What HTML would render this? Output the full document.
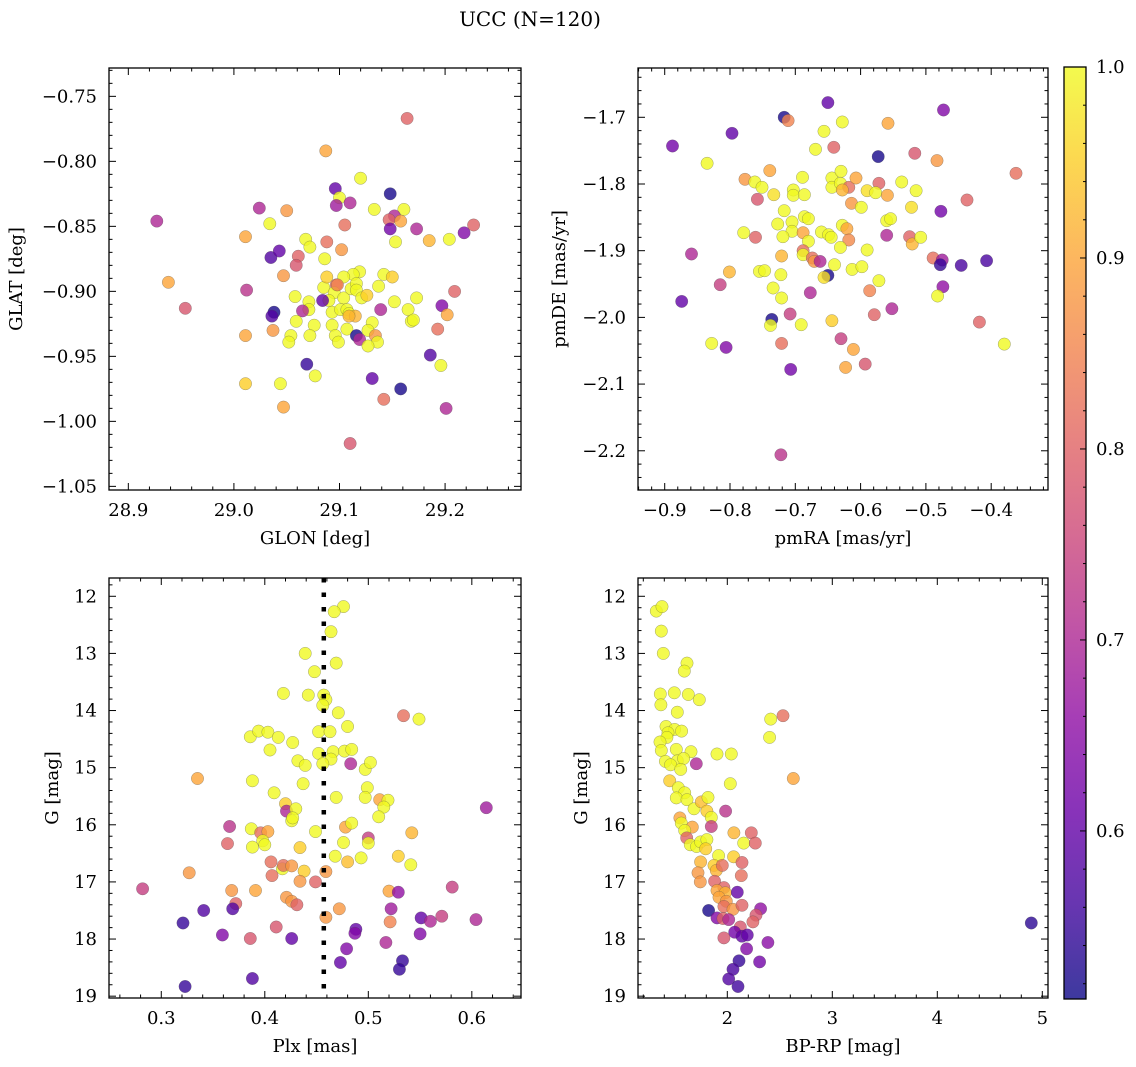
<!DOCTYPE html>
<html><head><meta charset="utf-8">
<style>
html,body{margin:0;padding:0;background:#fff;}
svg{display:block;font-family:"DejaVu Serif","Liberation Serif",serif;}
</style></head>
<body>
<svg id="fig" width="1136" height="1067" viewBox="0 0 1136 1067" xmlns="http://www.w3.org/2000/svg">
<defs>
<linearGradient id="plasma" x1="0" y1="1" x2="0" y2="0">
<stop offset="0" stop-color="#0d0887"/><stop offset="0.1" stop-color="#41049d"/><stop offset="0.2" stop-color="#6a00a8"/><stop offset="0.3" stop-color="#8f0da4"/><stop offset="0.4" stop-color="#b12a90"/><stop offset="0.5" stop-color="#cc4778"/><stop offset="0.6" stop-color="#e16462"/><stop offset="0.7" stop-color="#f2844b"/><stop offset="0.8" stop-color="#fca636"/><stop offset="0.9" stop-color="#fcce25"/><stop offset="1" stop-color="#f0f921"/>
</linearGradient>
</defs>
<text x="530" y="26" text-anchor="middle" font-size="20">UCC (N=120)</text>
</svg>
<script>
// Panel 1: GLON vs GLAT
const p1Glon=[28.927,28.938,28.954,29.012,29.011,29.024,29.050,29.034,29.035,29.043,29.061,29.059,29.047,29.068,29.072,29.088,29.086,29.102,29.087,29.096,29.100,29.097,29.110,29.120,29.148,29.133,29.161,29.152,29.147,29.158,29.148,29.105,29.153,29.173,29.185,29.204,29.218,29.227,29.164,29.209,29.197,29.202,29.193,29.186,29.196,29.201,29.173,29.152,29.165,29.168,29.170,29.139,29.137,29.142,29.150,29.119,29.113,29.104,29.097,29.085,29.095,29.104,29.111,29.116,29.116,29.121,29.126,29.090,29.084,29.093,29.101,29.107,29.109,29.115,29.058,29.071,29.071,29.065,29.038,29.036,29.059,29.076,29.093,29.037,29.011,29.054,29.052,29.072,29.096,29.099,29.107,29.131,29.127,29.116,29.119,29.134,29.136,29.127,29.069,29.077,29.011,29.044,29.047,29.131,29.158,29.142,29.110,29.088,29.098,29.109];
const p1Glat=[-0.846,-0.893,-0.913,-0.899,-0.858,-0.836,-0.838,-0.848,-0.874,-0.869,-0.873,-0.880,-0.888,-0.860,-0.866,-0.862,-0.875,-0.868,-0.792,-0.821,-0.828,-0.834,-0.832,-0.813,-0.825,-0.837,-0.837,-0.842,-0.845,-0.846,-0.852,-0.849,-0.862,-0.852,-0.861,-0.860,-0.855,-0.849,-0.767,-0.900,-0.911,-0.918,-0.929,-0.949,-0.957,-0.990,-0.905,-0.908,-0.914,-0.923,-0.922,-0.914,-0.896,-0.887,-0.889,-0.885,-0.887,-0.889,-0.895,-0.897,-0.901,-0.905,-0.898,-0.894,-0.899,-0.905,-0.903,-0.907,-0.907,-0.916,-0.914,-0.914,-0.917,-0.919,-0.904,-0.908,-0.914,-0.915,-0.916,-0.919,-0.923,-0.926,-0.926,-0.930,-0.934,-0.934,-0.939,-0.934,-0.934,-0.939,-0.929,-0.924,-0.930,-0.934,-0.937,-0.934,-0.939,-0.942,-0.956,-0.965,-0.971,-0.971,-0.989,-0.967,-0.975,-0.983,-1.017,-0.889,-0.895,-0.919];
const p1Prob=[0.70,0.90,0.78,0.72,0.90,0.70,0.88,1,0.58,0.60,0.80,0.78,0.88,1,1,0.82,1,0.88,0.90,0.60,1,0.68,0.70,1,0.52,1,1,0.70,0.80,0.90,0.62,0.82,1,0.70,0.92,1,0.64,0.80,0.80,0.80,0.64,0.90,0.82,0.58,1,0.70,1,1,1,1,1,0.70,1,1,0.95,1,1,1,0.82,1,1,1,1,1,1,1,0.95,1,0.60,1,1,1,1,0.92,1,1,1,0.70,0.52,0.58,1,1,1,0.88,0.90,1,1,1,1,1,1,1,1,0.52,0.70,0.88,1,1,0.55,1,0.95,1,0.90,0.60,0.52,0.82,0.78,0.95,0.85,0.92];

// Panel 2: pmRA vs pmDE
const p2PmRA=[-0.888,-0.797,-0.835,-0.717,-0.711,-0.650,-0.656,-0.628,-0.669,-0.641,-0.558,-0.473,-0.573,-0.517,-0.483,-0.362,-0.777,-0.762,-0.751,-0.739,-0.733,-0.758,-0.703,-0.703,-0.689,-0.686,-0.644,-0.630,-0.644,-0.631,-0.618,-0.628,-0.607,-0.572,-0.590,-0.577,-0.559,-0.537,-0.515,-0.614,-0.599,-0.522,-0.477,-0.437,-0.717,-0.727,-0.705,-0.705,-0.719,-0.686,-0.680,-0.779,-0.761,-0.859,-0.688,-0.680,-0.660,-0.649,-0.645,-0.628,-0.621,-0.618,-0.631,-0.560,-0.554,-0.560,-0.525,-0.521,-0.508,-0.590,-0.721,-0.688,-0.688,-0.674,-0.671,-0.662,-0.640,-0.650,-0.656,-0.613,-0.598,-0.489,-0.475,-0.478,-0.446,-0.407,-0.474,-0.482,-0.801,-0.755,-0.747,-0.722,-0.815,-0.734,-0.721,-0.874,-0.677,-0.572,-0.586,-0.736,-0.738,-0.708,-0.691,-0.644,-0.579,-0.552,-0.418,-0.380,-0.828,-0.806,-0.721,-0.630,-0.611,-0.623,-0.593,-0.707,-0.722];
const p2PmDE=[-1.743,-1.724,-1.769,-1.700,-1.705,-1.678,-1.721,-1.707,-1.748,-1.745,-1.709,-1.689,-1.759,-1.754,-1.765,-1.784,-1.793,-1.797,-1.805,-1.780,-1.816,-1.823,-1.809,-1.817,-1.790,-1.816,-1.791,-1.781,-1.805,-1.799,-1.805,-1.809,-1.791,-1.799,-1.810,-1.813,-1.817,-1.797,-1.810,-1.829,-1.835,-1.835,-1.841,-1.824,-1.840,-1.860,-1.857,-1.871,-1.879,-1.849,-1.852,-1.873,-1.880,-1.905,-1.873,-1.886,-1.872,-1.876,-1.880,-1.862,-1.867,-1.884,-1.895,-1.855,-1.852,-1.877,-1.879,-1.890,-1.880,-1.899,-1.908,-1.900,-1.906,-1.911,-1.916,-1.916,-1.921,-1.937,-1.940,-1.928,-1.924,-1.911,-1.914,-1.921,-1.922,-1.915,-1.954,-1.968,-1.932,-1.931,-1.930,-1.936,-1.951,-1.956,-1.971,-1.976,-1.963,-1.945,-1.960,-2.003,-2.012,-1.995,-2.011,-2.005,-1.996,-1.987,-2.007,-2.040,-2.039,-2.045,-2.039,-2.032,-2.048,-2.075,-2.070,-2.078,-2.206];
const p2Prob=[0.62,0.60,1,0.52,0.85,0.60,1,1,1,0.80,0.90,0.64,0.52,0.78,0.88,0.82,0.88,1,1,0.90,0.97,0.78,1,1,1,1,1,1,1,1,0.82,0.92,0.90,0.80,0.97,1,0.90,1,1,0.88,1,0.97,0.62,0.80,1,1,1,1,1,1,1,1,0.80,0.70,0.90,1,1,1,1,1,0.90,0.86,1,1,1,0.70,0.80,0.92,1,1,0.92,0.82,1,0.82,0.88,0.70,1,0.52,0.97,1,1,0.82,0.68,0.55,0.57,0.57,0.66,1,0.92,1,1,1,0.74,1,1,0.60,0.70,1,0.85,0.52,1,0.74,1,0.95,0.80,0.70,0.80,1,1,0.64,0.82,0.74,0.90,0.90,0.78,0.62,0.72];

// Panel 3: Plx vs G
const p3Plx=[0.476,0.467,0.464,0.439,0.469,0.448,0.418,0.442,0.457,0.459,0.456,0.471,0.534,0.549,0.480,0.386,0.394,0.403,0.413,0.427,0.405,0.452,0.463,0.452,0.466,0.464,0.456,0.477,0.484,0.483,0.432,0.439,0.497,0.502,0.335,0.388,0.437,0.409,0.469,0.499,0.497,0.511,0.519,0.515,0.510,0.420,0.421,0.430,0.426,0.427,0.366,0.387,0.396,0.403,0.398,0.400,0.388,0.364,0.449,0.478,0.484,0.500,0.500,0.476,0.434,0.542,0.468,0.480,0.493,0.529,0.541,0.406,0.417,0.418,0.426,0.438,0.407,0.434,0.449,0.459,0.327,0.282,0.368,0.391,0.372,0.369,0.341,0.421,0.426,0.431,0.321,0.359,0.386,0.411,0.426,0.459,0.472,0.520,0.529,0.522,0.521,0.517,0.551,0.560,0.571,0.581,0.604,0.614,0.550,0.488,0.487,0.479,0.473,0.533,0.530,0.388,0.323];
const p3G=[12.18,12.27,12.62,13.00,13.17,13.32,13.70,13.73,13.73,13.81,13.91,14.04,14.09,14.15,14.28,14.46,14.36,14.38,14.47,14.56,14.69,14.37,14.37,14.75,14.72,14.85,14.93,14.71,14.68,14.93,14.88,14.96,15.03,14.91,15.19,15.23,15.28,15.44,15.52,15.35,15.52,15.56,15.57,15.69,15.86,15.63,15.76,15.72,15.93,15.88,16.03,16.07,16.14,16.12,16.28,16.35,16.39,16.33,16.12,16.04,15.97,16.23,16.32,16.31,16.40,16.14,16.55,16.65,16.58,16.55,16.70,16.65,16.77,16.71,16.72,16.81,16.89,16.99,17.00,16.82,16.84,17.12,17.15,17.15,17.38,17.47,17.50,17.27,17.34,17.40,17.72,17.93,17.99,17.79,17.99,17.62,17.47,17.16,17.18,17.47,17.70,18.06,17.63,17.69,17.60,17.09,17.66,15.70,17.91,17.83,17.90,18.17,18.41,18.38,18.53,18.69,18.83];
const p3Prob=[1,1,1,1,1,1,1,1,1,1,1,1,0.82,1,1,1,1,1,1,1,1,1,1,1,1,1,1,1,1,0.70,1,1,1,1,0.90,1,1,1,1,1,1,0.90,1,1,1,0.95,0.70,1,1,1,0.72,1,0.82,0.90,1,1,1,0.80,1,0.90,1,0.74,1,1,0.95,0.92,1,0.93,1,0.95,1,0.82,1,0.82,0.88,0.95,0.82,0.88,0.80,0.88,0.88,0.74,0.88,0.90,0.80,0.58,0.58,0.88,0.88,0.80,0.55,0.64,0.78,0.78,0.60,0.88,0.88,0.90,0.66,0.68,0.85,0.70,0.60,0.70,0.74,0.74,0.70,0.68,0.64,0.60,0.64,0.64,0.60,0.55,0.55,0.58,0.55];
const plxRef=[0.457];

// Panel 4: BP-RP vs G
const p4BpRp=[1.324,1.378,1.371,1.390,1.616,1.590,1.362,1.495,1.629,1.733,1.368,1.524,2.413,2.530,2.403,1.416,1.498,1.565,1.435,1.425,1.359,1.371,1.514,1.654,1.902,2.038,1.410,1.524,1.584,1.460,1.556,1.705,2.629,1.451,1.533,1.594,1.514,1.616,1.683,1.752,1.816,1.806,1.848,2.029,1.984,1.549,1.562,1.667,1.594,1.848,1.613,1.648,1.708,1.746,1.806,1.794,2.063,2.156,2.229,2.267,1.917,2.060,1.746,1.873,1.895,1.952,2.140,1.721,1.743,2.133,1.879,1.968,1.902,1.981,2.095,1.921,1.990,1.968,2.054,2.140,1.822,1.902,1.959,2.013,2.317,2.273,2.244,2.124,2.070,2.140,2.190,1.968,2.387,2.184,2.308,2.111,2.054,2.013,2.102,4.895];
const p4G=[12.26,12.18,12.61,13.00,13.17,13.31,13.71,13.69,13.72,13.81,13.90,14.03,14.15,14.09,14.47,14.28,14.33,14.36,14.39,14.47,14.55,14.70,14.68,14.72,14.76,14.76,14.89,14.88,14.84,14.95,15.03,14.93,15.19,15.23,15.35,15.44,15.53,15.56,15.72,15.60,15.52,15.76,15.87,15.28,15.76,15.88,15.97,16.04,16.10,16.03,16.23,16.35,16.38,16.30,16.26,16.42,16.14,16.32,16.14,16.32,16.54,16.56,16.65,16.71,16.80,16.71,16.66,16.84,17.00,16.89,16.99,17.10,17.15,17.19,17.18,17.27,17.34,17.43,17.48,17.41,17.50,17.63,17.64,17.66,17.47,17.58,17.70,17.79,17.88,17.95,17.93,17.98,18.06,18.17,18.40,18.38,18.53,18.70,18.83,17.72];
const p4Prob=[1,1,1,1,1,1,1,1,1,1,1,1,1,0.82,1,1,1,1,1,1,1,1,1,1,1,1,1,1,1,1,1,0.70,0.90,0.95,1,1,1,1,1,0.93,1,0.95,1,1,0.72,0.90,1,0.90,1,0.74,0.80,1,1,1,1,0.95,0.92,1,0.80,0.80,1,0.95,0.92,0.95,0.92,0.82,0.80,0.88,0.88,0.82,0.80,0.80,0.90,0.92,0.60,0.90,0.88,0.82,0.88,0.80,0.52,0.64,0.80,0.70,0.66,0.78,0.80,0.78,0.62,0.60,0.60,0.78,0.65,0.64,0.62,0.55,0.57,0.58,0.56,0.54];

// Colorbar
const cbTicks=[0.6,0.7,0.8,0.9,1.0];
const cbMin=0.512, cbMax=1.0;

const NS="http://www.w3.org/2000/svg";
const svg=document.getElementById('fig');
function mk(tag,attrs,parent){const e=document.createElementNS(NS,tag);for(const k in attrs)e.setAttribute(k,attrs[k]);(parent||svg).appendChild(e);return e;}

const plasmaStops=[[0,[13,8,135]],[0.1,[65,4,157]],[0.2,[106,0,168]],[0.3,[143,13,164]],[0.4,[177,42,144]],[0.5,[204,71,120]],[0.6,[225,100,98]],[0.7,[242,132,75]],[0.8,[252,166,54]],[0.9,[252,206,37]],[1,[240,249,33]]];
function plasma(v){let t=(v-cbMin)/(cbMax-cbMin);t=Math.max(0,Math.min(1,t));
 for(let i=0;i<plasmaStops.length-1;i++){const a=plasmaStops[i],b=plasmaStops[i+1];
  if(t<=b[0]){const f=(t-a[0])/(b[0]-a[0]);const c=a[1].map((x,j)=>Math.round(x+(b[1][j]-x)*f));return `rgb(${c[0]},${c[1]},${c[2]})`;}}
 return 'rgb(240,249,33)';}

function fmt(v,d){let s=v.toFixed(d);if(s.startsWith('-'))s='\u2212'+s.slice(1);return s;}

function panel(cfg){
 const g=mk('g',{});
 
 
 const X=v=>cfg.x0+(v-cfg.xmin)/(cfg.xmax-cfg.xmin)*(cfg.x1-cfg.x0);
 const Y=v=>cfg.ytop+(v-cfg.yAtTop)/(cfg.yAtBot-cfg.yAtTop)*(cfg.y1-cfg.ytop);
 const pg=mk('g',{},g);
 
 
 for(let i=0;i<cfg.xs.length;i++){
  const c=mk('circle',{cx:X(cfg.xs[i]).toFixed(1),cy:Y(cfg.ys[i]).toFixed(1),r:6.2,fill:plasma(cfg.ps[i]),'fill-opacity':0.8,stroke:'#4a4a4a','stroke-width':0.5,'stroke-opacity':0.5},pg);
  
  
 }
 if(cfg.vline){for(const v of cfg.vline){const l=mk('line',{x1:X(v),x2:X(v),y1:cfg.ytop,y2:cfg.y1,stroke:'#000','stroke-width':4.5,'stroke-dasharray':'4.5 10'},g);
  
  }}
 const fr=mk('rect',{x:cfg.x0,y:cfg.ytop,width:cfg.x1-cfg.x0,height:cfg.y1-cfg.ytop,fill:'none',stroke:'#000','stroke-width':1.3},g);
 
 
 const xa=mk('g',{},g);
 
 
 const eps=1e-9;
 for(let v=Math.ceil(cfg.xmin/cfg.xminor-eps)*cfg.xminor;v<=cfg.xmax+eps;v+=cfg.xminor){
  const px=X(v);const major=Math.abs(v/cfg.xmajor-Math.round(v/cfg.xmajor))<1e-6;const L=major?7:3.5;
  mk('line',{x1:px,x2:px,y1:cfg.y1,y2:cfg.y1-L,stroke:'#000','stroke-width':1},xa);
  mk('line',{x1:px,x2:px,y1:cfg.ytop,y2:cfg.ytop+L,stroke:'#000','stroke-width':1},xa);
 }
 for(const v of cfg.xticks){const t=mk('text',{x:X(v),y:cfg.y1+26,'text-anchor':'middle','font-size':18},xa);t.textContent=fmt(v,cfg.xdec);
  
  }
 const xl=mk('text',{x:(cfg.x0+cfg.x1)/2,y:cfg.y1+54,'text-anchor':'middle','font-size':18},xa);xl.textContent=cfg.xlabel;
 
 
 const ya=mk('g',{},g);
 
 
 const lo=Math.min(cfg.yAtTop,cfg.yAtBot),hi=Math.max(cfg.yAtTop,cfg.yAtBot);
 for(let k=Math.ceil(lo/cfg.yminor-eps);k*cfg.yminor<=hi+eps;k++){
  const v=k*cfg.yminor;const py=Y(v);const major=Math.abs(v/cfg.ymajor-Math.round(v/cfg.ymajor))<1e-6;const L=major?7:3.5;
  mk('line',{x1:cfg.x0,x2:cfg.x0+L,y1:py,y2:py,stroke:'#000','stroke-width':1},ya);
  mk('line',{x1:cfg.x1,x2:cfg.x1-L,y1:py,y2:py,stroke:'#000','stroke-width':1},ya);
 }
 for(const v of cfg.yticks){const t=mk('text',{x:cfg.x0-12,y:Y(v)+6,'text-anchor':'end','font-size':18},ya);t.textContent=fmt(v,cfg.ydec);
  
  }
 const lx=cfg.x0-cfg.ylOff,ly=(cfg.ytop+cfg.y1)/2;
 const yl=mk('text',{x:lx,y:ly,'text-anchor':'middle','font-size':18,transform:`rotate(-90 ${lx} ${ly})`,'dominant-baseline':'middle'},ya);yl.textContent=cfg.ylabel;
 
 
}

panel({name:'glon-glat-panel',x0:109,x1:521,ytop:68,y1:490,xmin:28.8817,xmax:29.2719,yAtTop:-0.7282,yAtBot:-1.0528,
 xs:p1Glon,ys:p1Glat,ps:p1Prob,xmajor:0.1,xminor:0.02,ymajor:0.05,yminor:0.01,
 xticks:[28.9,29.0,29.1,29.2],xdec:1,yticks:[-0.75,-0.80,-0.85,-0.90,-0.95,-1.00,-1.05],ydec:2,xlabel:'GLON [deg]',ylabel:'GLAT [deg]',ylOff:92});
panel({name:'proper-motion-panel',x0:638,x1:1048,ytop:68,y1:490,xmin:-0.9409,xmax:-0.3130,yAtTop:-1.6261,yAtBot:-2.2588,
 xs:p2PmRA,ys:p2PmDE,ps:p2Prob,xmajor:0.1,xminor:0.02,ymajor:0.1,yminor:0.02,
 xticks:[-0.9,-0.8,-0.7,-0.6,-0.5,-0.4],xdec:1,yticks:[-1.7,-1.8,-1.9,-2.0,-2.1,-2.2],ydec:1,xlabel:'pmRA [mas/yr]',ylabel:'pmDE [mas/yr]',ylOff:78});
panel({name:'plx-g-panel',x0:109,x1:521,ytop:578,y1:998,xmin:0.2495,xmax:0.6475,yAtTop:11.680,yAtBot:19.032,
 xs:p3Plx,ys:p3G,ps:p3Prob,xmajor:0.1,xminor:0.02,ymajor:1,yminor:0.2,vline:plxRef,
 xticks:[0.3,0.4,0.5,0.6],xdec:1,yticks:[12,13,14,15,16,17,18,19],ydec:0,xlabel:'Plx [mas]',ylabel:'G [mag]',ylOff:56});
panel({name:'cmd-panel',x0:638,x1:1048,ytop:578,y1:998,xmin:1.1495,xmax:5.0543,yAtTop:11.680,yAtBot:19.032,
 xs:p4BpRp,ys:p4G,ps:p4Prob,xmajor:1,xminor:0.2,ymajor:1,yminor:0.2,
 xticks:[2,3,4,5],xdec:0,yticks:[12,13,14,15,16,17,18,19],ydec:0,xlabel:'BP-RP [mag]',ylabel:'G [mag]',ylOff:56});

(function(){
 const cx0=1064,cx1=1086,cy0=67,cy1=999;
 const g=mk('g',{});
 
 
 mk('rect',{x:cx0,y:cy0,width:cx1-cx0,height:cy1-cy0,fill:'url(#plasma)','fill-opacity':0.8},g);
 mk('rect',{x:cx0,y:cy0,width:cx1-cx0,height:cy1-cy0,fill:'none',stroke:'#000','stroke-width':1.3},g);
 const Yc=v=>cy1-(v-cbMin)/(cbMax-cbMin)*(cy1-cy0);
 for(let k=Math.ceil(cbMin/0.02);k*0.02<=cbMax+1e-9;k++){const v=k*0.02;const major=Math.abs(v*10-Math.round(v*10))<1e-6;
  mk('line',{x1:cx1,x2:cx1-(major?6:3),y1:Yc(v),y2:Yc(v),stroke:'#000','stroke-width':1},g);}
 for(const v of cbTicks){const t=mk('text',{x:cx1+10,y:Yc(v)+6,'font-size':18},g);t.textContent=v.toFixed(1);
  
  }
})();
</script>
</body></html>
